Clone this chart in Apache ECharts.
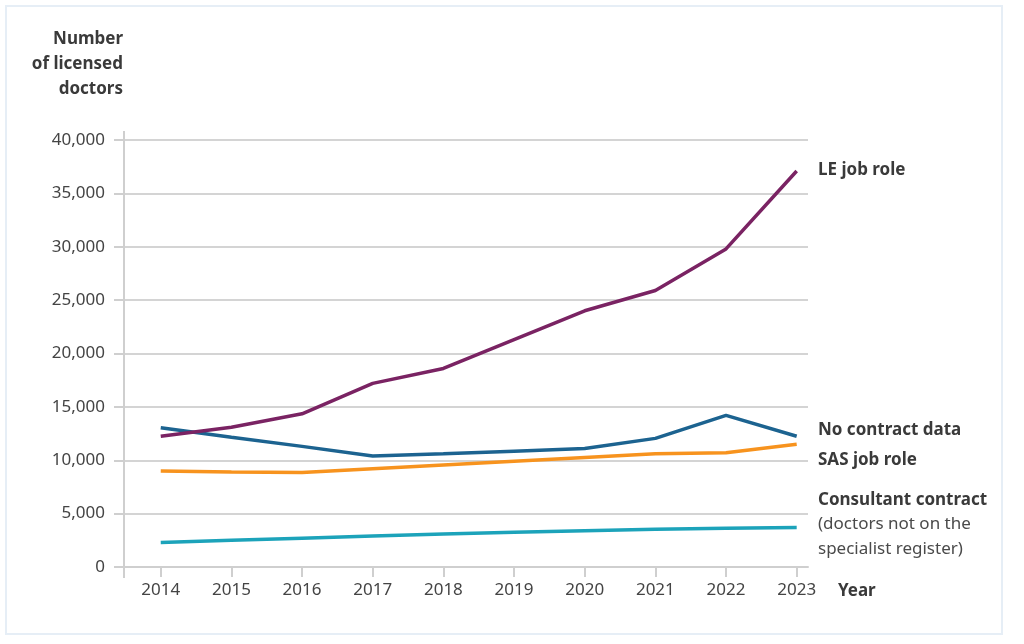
<!DOCTYPE html>
<html>
<head>
<meta charset="utf-8">
<script src="https://cdn.jsdelivr.net/npm/echarts@6/dist/echarts.min.js"></script>
<style>
html,body{margin:0;padding:0;background:#fff;}
#frame{position:absolute;left:5px;top:5px;width:998px;height:630px;border:2px solid #e6eef6;box-sizing:border-box;}
#chart{position:absolute;left:0;top:0;width:1024px;height:644px;}
</style>
</head>
<body>
<div id="frame"></div>
<div id="chart"></div>
<script>
const years = [2014, 2015, 2016, 2017, 2018, 2019, 2020, 2021, 2022, 2023];
const leJobRole = [12250, 13100, 14350, 17200, 18600, 21300, 24000, 25900, 29800, 37100];
const noContractData = [13050, 12150, 11300, 10400, 10600, 10850, 11100, 12050, 14200, 12250];
const sasJobRole = [9000, 8900, 8850, 9200, 9550, 9900, 10250, 10600, 10700, 11500];
const consultantContract = [2300, 2500, 2700, 2900, 3100, 3250, 3400, 3530, 3620, 3700];
const yTicks = [0, 5000, 10000, 15000, 20000, 25000, 30000, 35000, 40000];

const FONT = '"Noto Sans", "Open Sans", sans-serif';
const TXT = '#3a3a3a';
const pair = arr => arr.map((v, i) => [years[i], v]);

const chart = echarts.init(document.getElementById('chart'), null, {renderer: 'canvas'});
chart.setOption({
  animation: false,
  textStyle: {fontFamily: FONT},
  grid: {left: 124, right: 216, top: 140, bottom: 77, containLabel: false},
  xAxis: {
    type: 'value',
    min: 2013.48,
    max: 2023.16,
    axisLine: {show: true, lineStyle: {color: '#cfcfcf', width: 2}},
    axisTick: {show: true, customValues: years, length: 10, lineStyle: {color: '#cfcfcf', width: 2}},
    axisLabel: {customValues: years, formatter: v => String(v), color: '#444', fontSize: 17, margin: 15, fontFamily: FONT},
    splitLine: {show: false}
  },
  yAxis: {
    type: 'value',
    min: 0,
    max: 40000,
    interval: 5000,
    axisLine: {show: true, lineStyle: {color: '#cfcfcf', width: 2}},
    axisTick: {show: true, length: 10, lineStyle: {color: '#cfcfcf', width: 2}},
    axisLabel: {color: '#444', fontSize: 17, margin: 19, fontFamily: FONT,
      formatter: v => v.toLocaleString('en-GB')},
    splitLine: {show: true, lineStyle: {color: '#d4d4d4', width: 2}}
  },
  series: [
    {name: 'Consultant contract', type: 'line', data: pair(consultantContract), symbol: 'none',
     lineStyle: {color: '#1ca3ba', width: 3.5}},
    {name: 'SAS job role', type: 'line', data: pair(sasJobRole), symbol: 'none',
     lineStyle: {color: '#f7931e', width: 3.5}},
    {name: 'No contract data', type: 'line', data: pair(noContractData), symbol: 'none',
     lineStyle: {color: '#1c6390', width: 3.5}},
    {name: 'LE job role', type: 'line', data: pair(leJobRole), symbol: 'none',
     lineStyle: {color: '#7a2363', width: 3.5}}
  ],
  graphic: [
    {type: 'line', shape: {x1: 124, y1: 131, x2: 124, y2: 578}, style: {stroke: '#cfcfcf', lineWidth: 2}, z: 1},
    {type: 'text', x: 123, y: 27, style: {text: 'Number\nof licensed\ndoctors', fill: TXT, font: 'bold 17px ' + FONT, align: 'right', lineHeight: 25}},
    {type: 'text', x: 818, y: 170, style: {text: 'LE job role', fill: TXT, font: 'bold 17px ' + FONT, verticalAlign: 'middle'}},
    {type: 'text', x: 818, y: 430, style: {text: 'No contract data', fill: TXT, font: 'bold 17px ' + FONT, verticalAlign: 'middle'}},
    {type: 'text', x: 818, y: 460, style: {text: 'SAS job role', fill: TXT, font: 'bold 17px ' + FONT, verticalAlign: 'middle'}},
    {type: 'text', x: 818, y: 500, style: {text: 'Consultant contract', fill: TXT, font: 'bold 17px ' + FONT, verticalAlign: 'middle'}},
    {type: 'text', x: 818, y: 512, style: {text: '(doctors not on the\nspecialist register)', fill: '#4a4a4a', font: '17px ' + FONT, lineHeight: 25}},
    {type: 'text', x: 838, y: 591, style: {text: 'Year', fill: TXT, font: 'bold 17px ' + FONT, verticalAlign: 'middle'}}
  ]
});
</script>
</body>
</html>
